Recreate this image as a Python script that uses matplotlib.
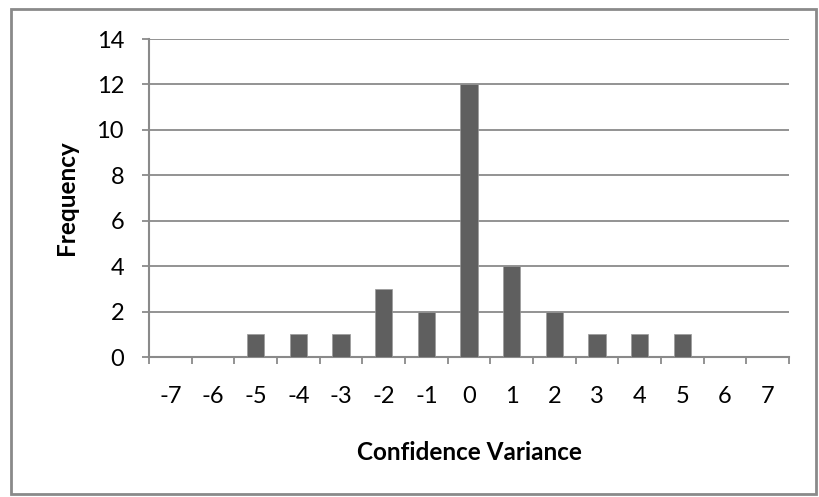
import matplotlib
matplotlib.use("Agg")
import matplotlib.pyplot as plt
from matplotlib.patches import Rectangle
import numpy as np

# Frequency of confidence variance values
variance = [-7, -6, -5, -4, -3, -2, -1, 0, 1, 2, 3, 4, 5, 6, 7]
frequency = [0, 0, 1, 1, 1, 3, 2, 12, 4, 2, 1, 1, 1, 0, 0]
y_ticks = [0, 2, 4, 6, 8, 10, 12, 14]

plt.rcParams["font.family"] = ["Lato", "DejaVu Sans"]

grid_col = "#8a8a8a"
bar_col = "#5f5f5f"
W, H = 819, 497

fig = plt.figure(figsize=(W / 100, H / 100), dpi=100)
ax = fig.add_axes([149 / W, 1 - 357 / H, (789 - 149) / W, (357 - 39) / H])

x = np.arange(len(variance))
ax.bar(x, frequency, width=0.4, color=bar_col, edgecolor="#9a9a9a", linewidth=0.5, zorder=3)

ax.set_xlim(-0.5, len(variance) - 0.5)
ax.set_ylim(0, 14)
ax.set_yticks(y_ticks)
ax.set_xticks(x)
ax.set_xticklabels([str(v) for v in variance])
ax.set_xticks(np.arange(len(variance) + 1) - 0.5, minor=True)

ax.grid(axis="y", color=grid_col, linewidth=1.3, zorder=1)
for side in ("top", "right"):
    ax.spines[side].set_visible(False)
for side in ("left", "bottom"):
    ax.spines[side].set_color(grid_col)
    ax.spines[side].set_linewidth(1.5)

ax.tick_params(axis="y", direction="out", length=5, width=1.3, color=grid_col,
               labelsize=17, pad=13)
ax.tick_params(axis="x", which="major", length=0, labelsize=17, pad=21)
ax.tick_params(axis="x", which="minor", direction="out", length=5, width=1.3, color=grid_col)

# Axis titles
fig.text(66 / W, 1 - 198 / H, "Frequency", rotation=90, ha="center", va="center",
         fontsize=17.5, fontweight="bold")
fig.text(469 / W, 1 - 452 / H, "Confidence Variance", ha="center", va="center",
         fontsize=17.5, fontweight="bold")

# Outer chart border
fig.patches.append(Rectangle((11 / W, 1 - 494 / H), (816 - 11) / W, (494 - 9) / H,
                             transform=fig.transFigure, fill=False,
                             edgecolor="#8a8a8a", linewidth=2))

fig.savefig("out.png", dpi=100)
